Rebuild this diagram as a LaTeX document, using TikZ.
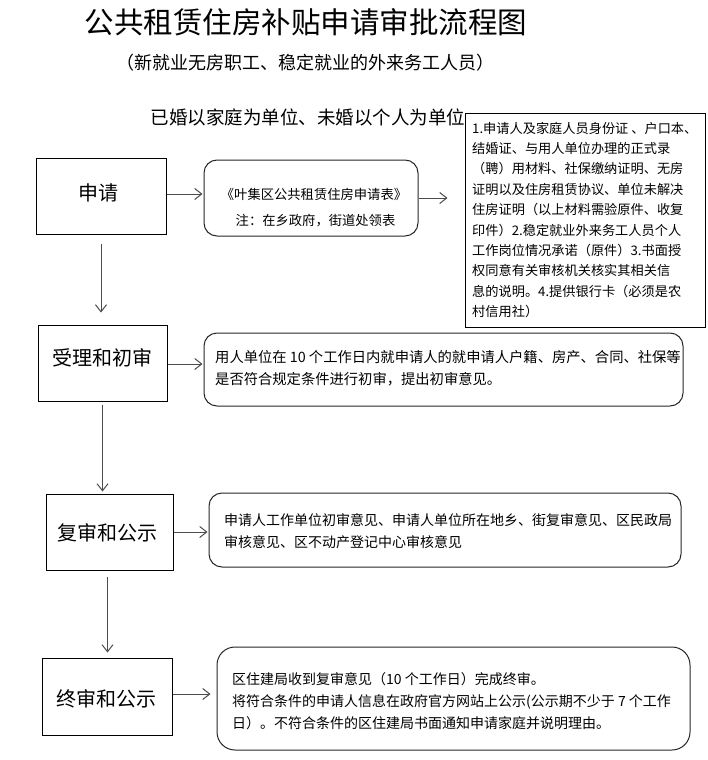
\documentclass[tikz,border=0pt]{standalone}
\usepackage{fontspec}
\setmainfont{Noto Sans CJK SC}
\usetikzlibrary{arrows.meta}
\tikzset{
  sqbox/.style={draw=black, line width=1pt, fill=white, inner sep=0pt},
  rbox/.style={draw=black!85, line width=1pt, rounded corners=13pt, inner sep=0pt},
  arr/.style={draw=black!70, line width=1pt, -{Straight Barb[length=7pt,width=11pt]}},
  lbl/.style={font=\fontsize{20}{24}\selectfont},
  txt/.style={inner sep=0pt, align=left, anchor=west}
}
\begin{document}
\begin{tikzpicture}[x=1pt,y=-1pt]
\useasboundingbox (0,0) rectangle (707,760);
% headings
\node[font=\fontsize{29.5}{34}\selectfont] (title) at (306,22) {公共租赁住房补贴申请审批流程图};
\node[font=\fontsize{18}{22}\selectfont] (sub) at (305,63) {（新就业无房职工、稳定就业的外来务工人员）};
\node[font=\fontsize{18.5}{22}\selectfont] (unit) at (308,117) {已婚以家庭为单位、未婚以个人为单位};
% left step boxes
\node[sqbox, minimum width=130pt, minimum height=76pt] (sq) at (101,196) {};
\node[lbl] (sqt) at (98,193) {申请};
\node[sqbox, minimum width=129pt, minimum height=76pt] (sl) at (102.5,363) {};
\node[lbl] (slt) at (102,358) {受理和初审};
\node[sqbox, minimum width=127pt, minimum height=76pt] (fs) at (109.5,532) {};
\node[lbl] (fst) at (107,533) {复审和公示};
\node[sqbox, minimum width=130pt, minimum height=77pt] (zs) at (107,696.5) {};
\node[lbl] (zst) at (106,699) {终审和公示};
% right boxes
\node[rbox, minimum width=214pt, minimum height=76pt] (b1) at (311,198) {};
\node[inner sep=0pt, align=center, font=\fontsize{13.3}{26}\selectfont] (b1t) at (314,208) {《叶集区公共租赁住房申请表》\\\hspace*{3pt}注：在乡政府，街道处领表};
\node[sqbox, minimum width=240pt, minimum height=214pt] (rb) at (585,220) {};
\node[txt, font=\fontsize{13.2}{20.4}\selectfont] (rbt) at (472,220) {%
1.申请人及家庭人员身份证 、户口本、\\
结婚证、与用人单位办理的正式录\\
（聘）用材料、社保缴纳证明、无房\\
证明以及住房租赁协议、单位未解决\\
住房证明（以上材料需验原件、收复\\
印件）2.稳定就业外来务工人员个人\\
工作岗位情况承诺（原件）3.书面授\\
权同意有关审核机关核实其相关信\\
息的说明。4.提供银行卡（必须是农\\
村信用社）};
\node[rbox, minimum width=479pt, minimum height=73pt] (b2) at (443.5,369.5) {};
\node[txt, font=\fontsize{14.3}{22.5}\selectfont] (b2t) at (215,368) {%
用人单位在 10 个工作日内就申请人的就申请人户籍、房产、合同、社保等\\
是否符合规定条件进行初审，提出初审意见。};
\node[rbox, minimum width=472pt, minimum height=74pt] (b3) at (445,530) {};
\node[txt, font=\fontsize{14}{22}\selectfont] (b3t) at (224,531) {%
申请人工作单位初审意见、申请人单位所在地乡、街复审意见、区民政局\\
审核意见、区不动产登记中心审核意见};
\node[rbox, rounded corners=18pt, minimum width=473pt, minimum height=103pt] (b4) at (453.5,698.5) {};
\node[txt, font=\fontsize{14}{22}\selectfont] (b4t) at (232,701) {%
区住建局收到复审意见（10 个工作日）完成终审。\\
将符合条件的申请人信息在政府官方网站上公示(公示期不少于 7 个工作\\
日）。不符合条件的区住建局书面通知申请家庭并说明理由。};
% connectors
\draw[arr, shorten <=9pt, shorten >=12pt] (sq.south) -- (sq.south |- sl.north);
\draw[arr, shorten <=3pt, shorten >=2pt] (sl.south) -- (sl.south |- fs.north);
\draw[arr, shorten <=6pt, shorten >=5pt] ([xshift=-2pt]fs.south) -- ([xshift=-2pt]fs.south |- zs.north);
\draw[arr, shorten >=1pt] ([yshift=2pt]sq.east) -- ([yshift=2pt]sq.east -| b1.west);
\draw[arr, shorten >=17pt] (b1.east) -- (b1.east -| rb.west);
\draw[arr, shorten >=1pt] ([yshift=-1pt]sl.east) -- ([yshift=-1pt]sl.east -| b2.west);
\draw[arr, shorten >=1pt] (fs.east) -- (fs.east -| b3.west);
\draw[arr, shorten >=6pt] ([yshift=2.5pt]zs.east) -- ([yshift=2.5pt]zs.east -| b4.west);
\end{tikzpicture}
\end{document}
